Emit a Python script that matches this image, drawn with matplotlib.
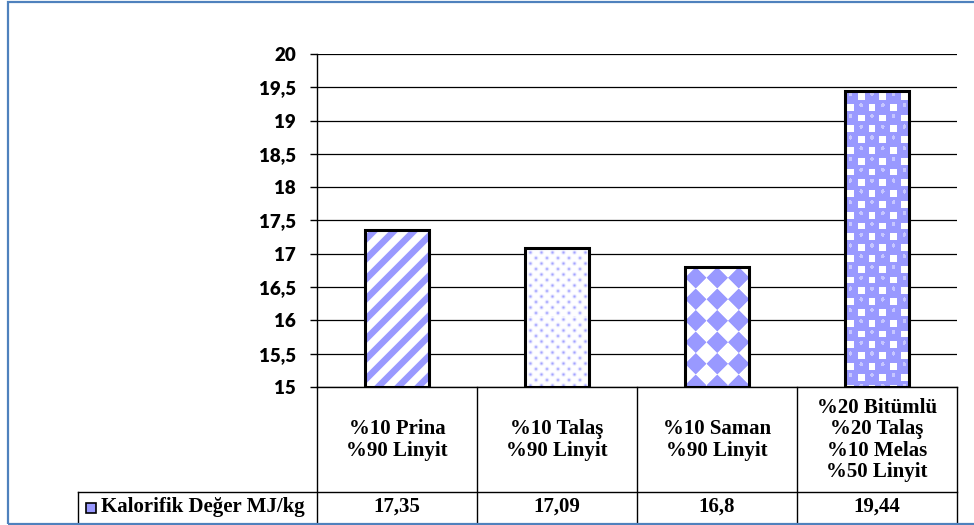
#!/usr/bin/env python3

import numpy as np
import matplotlib
matplotlib.use('Agg')
import matplotlib.pyplot as plt
from matplotlib.patches import Rectangle
from matplotlib.ticker import FuncFormatter, MultipleLocator

categories = ['%10 Prina\n%90 Linyit',
              '%10 Talaş\n%90 Linyit',
              '%10 Saman\n%90 Linyit',
              '%20 Bitümlü\n%20 Talaş\n%10 Melas\n%50 Linyit']
values = [17.35, 17.09, 16.8, 19.44]
series_name = 'Kalorifik Değer MJ/kg'
patterns = ['stripes', 'dots', 'diamonds', 'spheres']
y_min, y_max, y_step = 15, 20, 0.5

W, H, DPI = 974, 525, 100
BLUE = np.array([153, 153, 255]) / 255
SERIF = ['Liberation Serif', 'DejaVu Serif']

plt.rcParams['font.family'] = ['Lato', 'DejaVu Sans']
plt.rcParams['font.weight'] = 'bold'


def comma(v):
    return f'{v:g}'.replace('.', ',')


def make_texture(kind, w, h):
    yy, xx = np.mgrid[0:h, 0:w].astype(float) + 0.5
    if kind == 'stripes':
        t = ((xx + yy) % 20) / 20
        a = np.clip((0.23 - np.abs(t - 0.5)) / 0.07 + 0.5, 0, 1)
    elif kind == 'dots':
        dx, dy = 11.0, 5.5
        r = np.round(yy / dy)
        off = (r % 2) * dx / 2
        cx = np.round((xx - off) / dx) * dx + off
        d2 = (xx - cx) ** 2 + (yy - r * dy) ** 2
        a = 0.9 * np.exp(-d2 / 2.4)
    elif kind == 'diamonds':
        p = 21.5
        u = (xx % p) - p / 2
        v = (yy % p) - p / 2
        a = np.clip((p / 2 - np.abs(u) - np.abs(v)) / 1.2 + 0.5, 0, 1)
    else:
        # blue spheres on a checkerboard, small white squares between them
        c = 10.8
        X, Y = xx / c, yy / c
        odd = (np.floor(X) + np.floor(Y)) % 2 == 1
        fx, fy = X % 1 - 0.5, Y % 1 - 0.5
        white = odd & (np.maximum(np.abs(fx), np.abs(fy)) < 0.32)
        a = np.where(white, 0.0, 1.0)
        img = 1 - a[..., None] * (1 - BLUE)
        hl = (~odd) & (np.hypot(fx * 1.2, fy + 0.2) < 0.2)
        img[hl] = 1 - 0.55 * (1 - BLUE)
        return img
    return 1 - a[..., None] * (1 - BLUE)


fig = plt.figure(figsize=(W / DPI, H / DPI), dpi=DPI)
# plot area in pixels: x 317..957, y 54..387
ax = fig.add_axes([317 / W, 1 - 387 / H, 640 / W, 333 / H])

x = np.arange(len(values))
heights = [v - y_min for v in values]
bars = ax.bar(x, heights, width=0.4, bottom=y_min, facecolor='white',
              edgecolor='none', zorder=2)
ax.bar(x, heights, width=0.4, bottom=y_min, fill=False,
       edgecolor='black', linewidth=2.2, zorder=3)

ax.set_xlim(-0.5, len(values) - 0.5)
ax.set_ylim(y_min, y_max)
ax.yaxis.set_major_locator(MultipleLocator(y_step))
ax.yaxis.set_major_formatter(FuncFormatter(lambda v, p: comma(v)))
ax.set_xticks([])
ax.grid(axis='y', color='black', linewidth=0.9)
ax.set_axisbelow(True)
for s in ['top', 'right']:
    ax.spines[s].set_visible(False)
for s in ['left', 'bottom']:
    ax.spines[s].set_color('black')
    ax.spines[s].set_linewidth(1.0)
ax.tick_params(axis='y', length=5, width=1, pad=10, labelsize=13.5,
               colors='black')
for lbl in ax.get_yticklabels():
    lbl.set_fontweight('heavy')

# fill patterns clipped to each bar
for bar, kind in zip(bars, patterns):
    x0, y0 = bar.get_x(), bar.get_y()
    x1, y1 = x0 + bar.get_width(), y0 + bar.get_height()
    (px0, py0), (px1, py1) = ax.transData.transform([(x0, y0), (x1, y1)])
    w, h = int(round(px1 - px0)), int(round(py1 - py0))
    im = ax.imshow(make_texture(kind, w, h), extent=(x0, x1, y0, y1),
                   aspect='auto', interpolation='nearest', zorder=2.5)
    im.set_clip_path(bar)
ax.set_xlim(-0.5, len(values) - 0.5)
ax.set_ylim(y_min, y_max)


# data table under the plot (pixel layout -> axes coords)
def ax_x(px):
    return (px - 317) / 640


def ax_y(py):
    return (387 - py) / 333


xt = ax.get_xaxis_transform()
y_row, y_bot = ax_y(492), ax_y(526)
for b in np.arange(len(values) + 1) - 0.5:
    ax.plot([b, b], [0, y_bot], color='black', lw=1, transform=xt,
            clip_on=False)
ax.plot([ax_x(78), 1], [y_row, y_row], color='black', lw=1,
        transform=ax.transAxes, clip_on=False)
ax.plot([ax_x(78), ax_x(78)], [y_row, y_bot], color='black', lw=1,
        transform=ax.transAxes, clip_on=False)

for i, (cat, v) in enumerate(zip(categories, values)):
    ax.text(i, ax_y(440), cat, transform=xt, ha='center', va='center',
            family=SERIF, fontsize=15, linespacing=1.1, color='black')
    ax.text(i, ax_y(507), comma(v), transform=xt, ha='center', va='center',
            family=SERIF, fontsize=15, color='black')

ax.add_patch(Rectangle((ax_x(86), ax_y(513)), 10 / 640, 10 / 333,
                       facecolor=BLUE, edgecolor='black', lw=1.2,
                       transform=ax.transAxes, clip_on=False))
ax.text(ax_x(101), ax_y(507), series_name, transform=ax.transAxes,
        ha='left', va='center', family=SERIF, fontsize=15, color='black')

# chart frame
fig.add_artist(Rectangle((7.5 / W, 1.5 / H), 1.2, (522 / H), fill=False,
                         edgecolor='#4F81BD', lw=1.6,
                         transform=fig.transFigure))

fig.savefig('out.png', dpi=DPI)
